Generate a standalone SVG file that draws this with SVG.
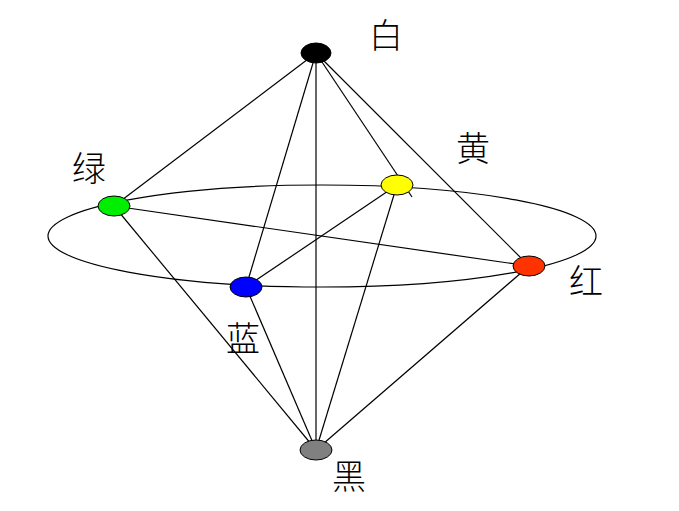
<svg xmlns="http://www.w3.org/2000/svg" width="679" height="511" viewBox="0 0 679 511">
<style>
.e{stroke:#000;stroke-width:1;}
.c line{stroke:#000;stroke-width:1.2;}
text{font-family:"Liberation Serif","Noto Sans CJK SC",serif;font-size:34px;font-weight:300;fill:#000;text-anchor:middle;}
</style>
<rect width="679" height="511" fill="#fff"/>
<ellipse cx="322" cy="236" rx="274" ry="51" fill="none" stroke="#000" stroke-width="1.2"/>
<g class="c" id="connectors">
<line x1="316" y1="53" x2="114" y2="206"/>
<line x1="316" y1="53" x2="246" y2="287"/>
<line x1="316" y1="53" x2="316" y2="450"/>
<line x1="316" y1="53" x2="412" y2="197"/>
<line x1="316" y1="53" x2="529" y2="266"/>
<line x1="114" y1="206" x2="529" y2="266"/>
<line x1="397" y1="185" x2="246" y2="287"/>
<line x1="114" y1="206" x2="316" y2="450"/>
<line x1="246" y1="287" x2="316" y2="450"/>
<line x1="397" y1="185" x2="316" y2="450"/>
<line x1="529" y1="266" x2="316" y2="450"/>
</g>
<g id="white"><ellipse class="e" cx="316" cy="53" rx="15" ry="10" fill="#000"/><text x="386" y="48">白</text></g>
<g id="green"><ellipse class="e" cx="114" cy="206" rx="16" ry="10" fill="#00ee00"/><text x="89" y="181">绿</text></g>
<g id="yellow"><ellipse class="e" cx="397" cy="185" rx="16" ry="10" fill="#ffff00"/><text x="473" y="161">黄</text></g>
<g id="red"><ellipse class="e" cx="529" cy="266" rx="16" ry="10" fill="#ff3300"/><text x="586" y="294">红</text></g>
<g id="blue"><ellipse class="e" cx="246" cy="287" rx="16" ry="10" fill="#0000ff"/><text x="243" y="351">蓝</text></g>
<g id="black"><ellipse class="e" cx="316" cy="450" rx="16" ry="10" fill="#808080"/><text x="349" y="489">黑</text></g>
</svg>
